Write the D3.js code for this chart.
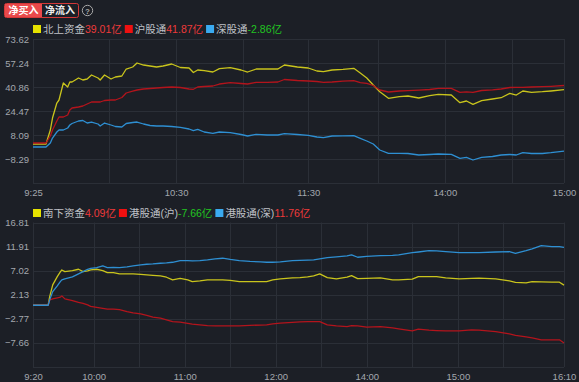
<!DOCTYPE html>
<html><head><meta charset="utf-8">
<script src="https://cdn.jsdelivr.net/npm/d3@7/dist/d3.min.js"></script>
<style>
html,body{margin:0;padding:0;background:#1c1f26;}
svg{display:block;}
text{font-family:"Liberation Sans",Arial,"Noto Sans CJK SC",sans-serif;}
</style></head>
<body><svg id="c" width="579" height="382"></svg>
<script>
// ---------- Top chart (northbound) ----------
const topIdx = [0,6,8,9,11,12,14,16,17,18,21,23,25,27,30,31,33,36,38,41,43,46,48,51,54,57,60,64,68,72,74,76,79,83,86,91,96,99,103,108,113,116,122,127,131,134,138,143,148,151,154,157,160,164,169,173,178,183,187,193,197,200,203,207,212,216,220,223,226,230,235,239,245];
const northTotal = [1.95,1.95,11.50,19.69,29.93,31.98,43.59,40.86,44.27,44.27,47.00,45.63,46.32,49.05,47.00,45.63,49.05,46.32,47.68,48.36,53.14,54.51,57.24,55.87,55.19,54.51,55.19,56.56,54.17,53.83,50.75,52.46,51.98,51.09,53.35,54.03,52.46,51.09,53.14,53.14,53.14,55.87,54.51,53.83,51.78,51.30,52.46,52.94,53.62,50.41,47.00,42.22,37.65,33.14,34.23,34.71,33.35,34.92,35.87,35.39,30.14,31.30,29.05,31.50,32.66,33.55,36.55,35.39,38.12,37.24,37.65,38.12,39.01];
const shConnect = [2.63,2.63,7.41,11.50,17.65,20.38,20.38,21.74,25.16,26.52,27.20,27.89,29.25,30.62,30.62,30.62,31.64,31.98,31.98,33.69,36.76,38.12,38.81,39.49,39.83,40.17,40.51,40.86,40.51,39.49,39.29,40.86,41.20,41.54,42.90,43.79,43.24,42.90,44.06,44.06,44.27,45.97,45.29,44.95,44.61,44.06,44.27,44.81,45.16,43.79,43.38,41.88,38.81,37.44,38.12,38.33,38.67,39.15,39.97,39.97,37.24,37.58,37.24,38.47,38.94,39.49,40.51,40.65,40.65,40.86,41.06,41.33,41.87];
const szConnect = [-0.10,-0.10,2.63,6.04,10.14,11.50,11.50,12.87,14.92,15.94,17.65,17.99,16.28,16.96,15.60,14.23,16.28,14.92,13.89,13.55,15.94,16.62,16.96,15.60,14.58,14.23,14.23,13.89,13.35,12.19,11.03,11.98,10.14,9.25,10.14,9.66,8.43,7.41,8.57,8.09,8.09,8.98,8.43,7.88,6.73,6.25,7.41,7.54,7.61,5.84,3.99,1.95,-2.15,-4.40,-4.40,-4.54,-5.56,-5.22,-4.88,-5.08,-7.81,-7.13,-8.97,-7.13,-6.59,-5.56,-5.22,-5.56,-3.99,-4.54,-4.54,-3.99,-2.86];
const topYTicks = [73.62,57.24,40.86,24.47,8.09,-8.29];
const topYMin = -24.67;
const topGridIdx = [35,66,97,127,159,190,221];
const topXTickIdx = [0,66,127,190,245];
const topXTickLabels = ["9:25","10:30","11:30","14:00","15:00"];
const topLegend = [
  {name:"北上资金", value:"39.01亿", sign:1},
  {name:"沪股通", value:"41.87亿", sign:1},
  {name:"深股通", value:"-2.86亿", sign:-1}
];

// ---------- Bottom chart (southbound) ----------
const botIdx = [0,10,11,13,16,18,19,21,26,30,33,36,38,42,46,49,53,57,62,66,71,75,79,84,88,92,97,102,105,110,115,120,125,130,136,143,150,154,158,163,171,176,181,185,189,194,200,207,210,214,220,229,237,241,250,254,261,266,272,281,289,294,305,314,318,325,329,335,342,347,350];
const southTotal = [0,0,1.75,4.13,5.81,6.77,7.17,6.83,7.03,7.31,6.83,6.97,7.17,7.31,7.03,6.62,6.62,6.36,6.36,6.36,6.26,6.16,6.06,5.95,5.69,5.14,5.45,5.14,4.80,4.94,5.14,5.14,5.14,5.04,4.80,4.80,4.80,4.80,5.14,5.35,5.55,5.61,5.75,5.95,6.36,5.61,5.35,5.69,6.02,5.41,5.45,5.55,5.14,5.14,5.29,5.81,5.81,5.81,5.55,5.35,5.45,5.49,5.35,4.94,4.64,4.53,4.80,4.74,4.68,4.68,4.09];
const hkSh = [0,0,1.09,1.29,1.49,1.63,1.90,1.29,0.94,0.58,0.38,0.07,-0.23,-0.44,-0.64,-0.80,-0.80,-0.90,-1.29,-1.55,-1.76,-2.06,-2.42,-2.63,-2.97,-3.32,-3.44,-3.68,-3.85,-3.99,-4.15,-4.19,-4.19,-4.19,-4.19,-4.09,-4.03,-3.99,-3.78,-3.64,-3.48,-3.38,-3.32,-3.32,-3.32,-3.99,-4.19,-4.33,-4.13,-4.19,-4.45,-4.33,-4.60,-4.80,-5.20,-4.86,-5.06,-5.14,-5.20,-5.20,-5.00,-5.06,-5.35,-5.81,-6.12,-6.42,-6.62,-7.03,-7.03,-7.03,-7.66];
const hkSz = [0,0,1.09,2.77,3.93,4.80,5.14,5.35,5.75,6.36,6.83,7.31,7.48,7.64,7.98,7.64,7.68,7.64,7.78,7.98,8.19,8.33,8.39,8.53,8.59,8.73,9.06,9.06,9.00,9.06,9.20,9.40,9.55,9.30,9.06,8.90,8.80,8.73,8.73,8.80,9.06,9.10,9.16,9.20,9.40,9.67,9.81,10.01,10.22,9.75,9.91,10.07,10.11,10.22,10.68,10.82,11.09,11.03,10.89,10.68,10.68,10.68,10.82,10.89,10.56,11.09,11.43,12.10,11.90,11.90,11.76];
const botYTicks = [16.81,11.91,7.02,2.13,-2.77,-7.66];
const botYMin = -12.55;
const botGridIdx = [40,70,100,130,160,190,220,250,280,310];
const botXTickIdx = [0,40,100,160,220,280,350];
const botXTickLabels = ["9:20","10:00","11:00","12:00","14:00","15:00","16:10"];
const botLegend = [
  {name:"南下资金", value:"4.09亿", sign:1},
  {name:"港股通(沪)", value:"-7.66亿", sign:-1},
  {name:"港股通(深)", value:"11.76亿", sign:1}
];

const lineColors = ["#c9c41c","#b3141c","#2e8fd2"];
const swatchColors = ["#e6e200","#f01010","#3aaaf0"];
const gridColor = "#2b2f37";
const axisText = "#a3a7ae";

const svg = d3.select("#c");

// Header buttons
const hdr = svg.append("g");
hdr.append("rect").attr("x",4.5).attr("y",3.5).attr("width",74).attr("height",14).attr("rx",2)
  .attr("fill","none").attr("stroke","#d43838");
hdr.append("rect").attr("x",5).attr("y",4).attr("width",37).attr("height",13).attr("fill","#e9494b");
hdr.append("text").attr("x",23.5).attr("y",14.3).attr("text-anchor","middle").attr("fill","#fff")
  .attr("font-size",10).attr("font-weight","bold").text("净买入");
hdr.append("text").attr("x",60).attr("y",14.3).attr("text-anchor","middle").attr("fill","#eee")
  .attr("font-size",10).attr("font-weight","bold").text("净流入");
hdr.append("circle").attr("cx",87.5).attr("cy",10.5).attr("r",5.2).attr("fill","none").attr("stroke","#a8a8a8").attr("stroke-width",1);
hdr.append("text").attr("x",87.5).attr("y",13.6).attr("text-anchor","middle").attr("fill","#a8a8a8")
  .attr("font-size",8).attr("font-weight","bold").text("?");

function drawChart(cfg){
  const g = svg.append("g");
  const x = d3.scaleLinear().domain(cfg.xDomain).range([33,564]);
  const y = d3.scaleLinear().domain([cfg.yMin, cfg.yTicks[0]]).range([cfg.bottom, cfg.top]);

  // horizontal grid
  const allY = cfg.yTicks.concat([cfg.yMin]);
  g.append("g").selectAll("line").data(allY).join("line")
    .attr("x1",x.range()[0]).attr("x2",x.range()[1])
    .attr("y1",d=>Math.round(y(d))+0.5).attr("y2",d=>Math.round(y(d))+0.5)
    .attr("stroke",gridColor).attr("stroke-width",1);
  // vertical grid
  const allX = [cfg.xDomain[0]].concat(cfg.gridIdx,[cfg.xDomain[1]]);
  g.append("g").selectAll("line").data(allX).join("line")
    .attr("x1",d=>Math.round(x(d))+0.5).attr("x2",d=>Math.round(x(d))+0.5)
    .attr("y1",cfg.top).attr("y2",cfg.bottom)
    .attr("stroke",gridColor).attr("stroke-width",1);

  // y axis labels
  const yAxis = d3.axisLeft(y).tickValues(cfg.yTicks).tickSize(0).tickPadding(4).tickFormat(d3.format(".2f"));
  const ya = g.append("g").attr("transform","translate(33,0)").call(yAxis);
  ya.select(".domain").remove();
  ya.selectAll("text").attr("fill",axisText).attr("font-size",9.5).attr("font-family",null);

  // x axis labels
  const xAxis = d3.axisBottom(x).tickValues(cfg.xTickIdx).tickSize(0).tickPadding(6)
    .tickFormat((d,i)=>cfg.xTickLabels[i]);
  const xa = g.append("g").attr("transform",`translate(0,${cfg.bottom})`).call(xAxis);
  xa.select(".domain").remove();
  xa.selectAll("text").attr("fill",axisText).attr("font-size",9.5).attr("font-family",null);

  // lines
  const line = d3.line().x((d,i)=>x(cfg.idx[i])).y(d=>y(d));
  cfg.series.forEach((s,k)=>{
    g.append("path").datum(s).attr("d",line).attr("fill","none")
      .attr("stroke",lineColors[k]).attr("stroke-width",1.3).attr("stroke-linejoin","round");
  });

  // legend
  let lx = 33;
  const lg = g.append("g");
  cfg.legend.forEach((item,k)=>{
    lg.append("rect").attr("x",lx).attr("y",cfg.legendY-4).attr("width",8).attr("height",8).attr("fill",swatchColors[k]);
    lx += 10;
    const t = lg.append("text").attr("x",lx).attr("y",cfg.legendY+3.6).attr("font-size",10.5);
    t.append("tspan").attr("fill","#bfc1c6").text(item.name);
    t.append("tspan").attr("fill",item.sign>0?"#ee3a3a":"#22c422").text(item.value);
    lx += t.node().getComputedTextLength() + 3;
  });
}

drawChart({xDomain:[0,245], idx:topIdx, series:[northTotal,shConnect,szConnect],
  yTicks:topYTicks, yMin:topYMin, top:39, bottom:183, gridIdx:topGridIdx,
  xTickIdx:topXTickIdx, xTickLabels:topXTickLabels, legend:topLegend, legendY:29});
drawChart({xDomain:[0,350], idx:botIdx, series:[southTotal,hkSh,hkSz],
  yTicks:botYTicks, yMin:botYMin, top:222.5, bottom:367, gridIdx:botGridIdx,
  xTickIdx:botXTickIdx, xTickLabels:botXTickLabels, legend:botLegend, legendY:213});
</script></body></html>
